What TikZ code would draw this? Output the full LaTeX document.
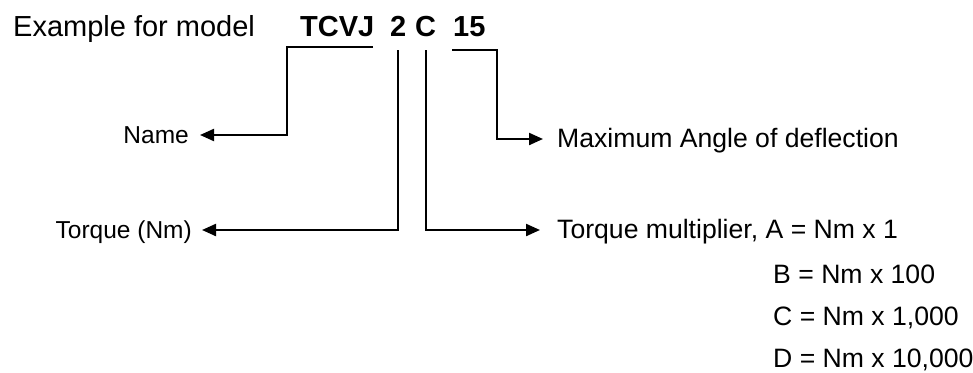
\documentclass[tikz,border=0pt]{standalone}
\usepackage{fontspec}
\setmainfont{Liberation Sans}
\usetikzlibrary{arrows.meta}
\begin{document}
\begin{tikzpicture} [x=1pt,y=-1pt,
  conn/.style={line width=2.2pt,-{Triangle[length=14pt,width=12pt]}},
  code/.style={inner sep=0pt,anchor=base west,font=\fontsize{29}{34}\selectfont\bfseries},
  lbl/.style={inner ysep=0pt,text height=17pt,text depth=0pt,font=\fontsize{24.5}{28}\selectfont},
  rlbl/.style={lbl,font=\fontsize{26.6}{30}\selectfont}]
\useasboundingbox (0,0) rectangle (973,372);

\node [inner sep=0pt,anchor=base west,font=\fontsize{29}{34}\selectfont] (title) at (13,36) {Example for model};
\node [code] (tcvj) at (300,36) {TCVJ};
\node [code] (two) at (390,36) {2};
\node [code] (cee) at (415,36) {C};
\node [code] (fifteen) at (453,36) {15};

\node [lbl,anchor=east,inner xsep=11pt] (name) at (200,135) {Name};
\node [lbl,anchor=east,inner xsep=10pt] (torque) at (202,230) {Torque (Nm)};
\node [rlbl,anchor=west,inner xsep=14pt] (angle) at (543,139) {Maximum Angle of deflection};
\node [rlbl,anchor=west,inner xsep=17pt] (mult) at (540,230) {Torque multiplier, A = Nm x 1};
\node [rlbl,anchor=west,inner xsep=0pt] (mulb) at (773,275) {B = Nm x 100};
\node [rlbl,anchor=west,inner xsep=0pt] (mulc) at (773,317) {C = Nm x 1,000};
\node [rlbl,anchor=west,inner xsep=0pt] (muld) at (773,359) {D = Nm x 10,000};

\coordinate (tcvj-r) at (373,47);
\coordinate (tcvj-l) at (287,47);
\coordinate (fifteen-l) at (452,50);
\coordinate (fifteen-r) at (497,50);

\draw [conn] (tcvj-r) -- (tcvj-l) |- (name.east);
\draw [conn] (two.south |- 0,50) |- (torque.east);
\draw [conn] (cee.south |- 0,50) |- (mult.west);
\draw [conn] (fifteen-l) -- (fifteen-r) |- (angle.west);
\end{tikzpicture}
\end{document}
